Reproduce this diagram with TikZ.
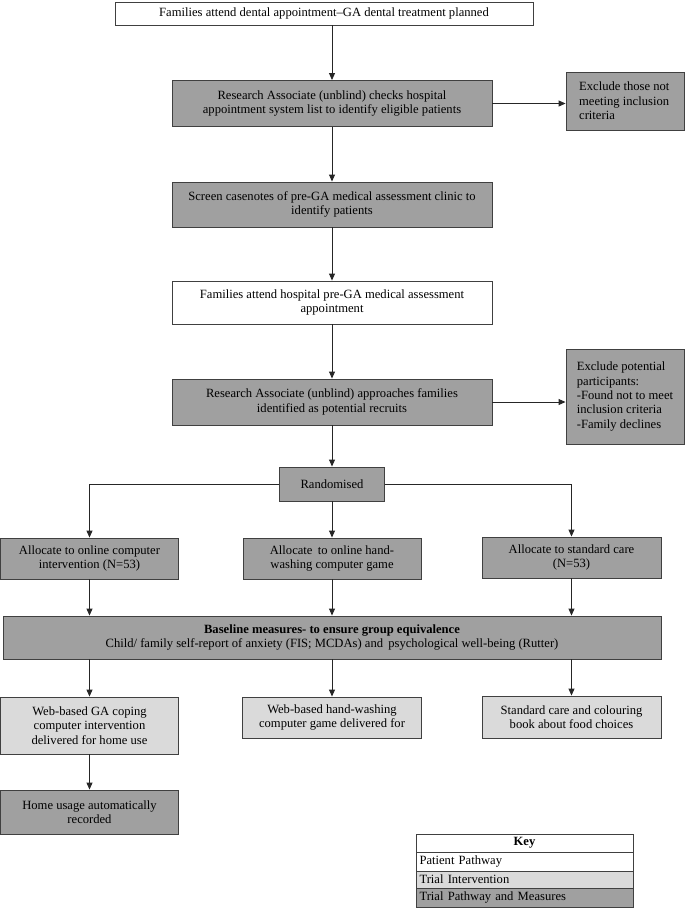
\documentclass[tikz,border=0pt]{standalone}
\usepackage{fontspec}
\setmainfont{Liberation Serif}
\usetikzlibrary{arrows.meta}
\definecolor{darkbox}{HTML}{A0A0A0}
\definecolor{lightbox}{HTML}{DADADA}
\definecolor{edge}{HTML}{404040}
\tikzset{
  x=1pt, y=-1pt,
  every node/.style={font=\fontsize{12.6}{14.4}\selectfont},
  box/.style={draw=edge, line width=0.9pt, inner sep=0pt, align=center},
  patient/.style={box, fill=white},
  trialbox/.style={box, fill=darkbox},
  interv/.style={box, fill=lightbox},
  arr/.style={-{Triangle[length=7pt,width=6pt]}, line width=0.9pt, black!85},
}
\begin{document}
\begin{tikzpicture}
\useasboundingbox (0,0) rectangle (685,908);
\node[patient, minimum width=418, minimum height=23] (top) at (324,13.5) {Families attend dental appointment--GA dental treatment planned};
\node[trialbox, minimum width=320, minimum height=46] (ra1) at (332,103.5) {Research Associate (unblind) checks hospital\\appointment system list to identify eligible patients};
\node[trialbox, minimum width=118, minimum height=58, align=left] (ex1) at (625,101) {Exclude those not\\meeting inclusion\\criteria\hspace*{56pt}};
\node[trialbox, minimum width=320, minimum height=45] (scr) at (332,204.5) {Screen casenotes of pre-GA medical assessment clinic to\\identify patients};
\node[patient, minimum width=320, minimum height=43] (hosp) at (332,302.5) {Families attend hospital pre-GA medical assessment\\appointment};
\node[trialbox, minimum width=320, minimum height=46] (ra2) at (332,402) {Research Associate (unblind) approaches families\\identified as potential recruits};
\node[trialbox, minimum width=118, minimum height=95, align=left] (ex2) at (625,396.5) {Exclude potential\\participants:\\-Found not to meet\\inclusion criteria\\-Family declines};
\node[trialbox, minimum width=105, minimum height=34] (rand) at (332,484) {Randomised};
\node[trialbox, minimum width=178, minimum height=41] (al1) at (89.5,558.5) {Allocate to online computer\\intervention (N=53)};
\node[trialbox, minimum width=178, minimum height=41] (al2) at (332,558.5) {Allocate\, to online hand-\\washing computer game};
\node[trialbox, minimum width=179, minimum height=41] (al3) at (571.5,557.5) {Allocate to standard care\\(N=53)};
\node[trialbox, minimum width=658, minimum height=43] (base) at (332,637.5) {\textbf{Baseline measures- to ensure group equivalence}\\Child/ family self-report of anxiety (FIS; MCDAs) and\, psychological well-being (Rutter)};
\node[interv, minimum width=178, minimum height=57] (web1) at (89.5,725.5) {Web-based GA coping\\computer intervention\\delivered for home use};
\node[interv, minimum width=179, minimum height=41] (web2) at (332,717.5) {Web-based hand-washing\\computer game delivered for};
\node[interv, minimum width=179, minimum height=42] (web3) at (571.5,717) {Standard care and colouring\\book about food choices};
\node[trialbox, minimum width=178, minimum height=44] (home) at (89.5,812) {Home usage automatically\\recorded};
% key
\node[patient, minimum width=217, minimum height=18] (k0) at (524.5,843) {\textbf{Key}};
\node[patient, minimum width=217, minimum height=19, text width=210, align=left, inner xsep=3.5pt] (k1) at (524.5,861.5) {Patient Pathway};
\node[interv, minimum width=217, minimum height=17, text width=210, align=left, inner xsep=3.5pt] (k2) at (524.5,879.5) {Trial Intervention};
\node[trialbox, minimum width=217, minimum height=19, text width=210, align=left, inner xsep=3.5pt] (k3) at (524.5,897.5) {Trial Pathway and Measures};
% connectors
\draw[arr] (top.south -| ra1) -- (ra1.north);
\draw[arr] (ra1.east) -- (ex1.west |- ra1.east);
\draw[arr] (ra1.south) -- (scr.north);
\draw[arr] (scr.south) -- (hosp.north);
\draw[arr] (hosp.south) -- (ra2.north);
\draw[arr] (ra2.east) -- (ex2.west |- ra2.east);
\draw[arr] (ra2.south) -- (rand.north);
\draw[arr] (rand.west) -| (al1.north);
\draw[arr] (rand.east) -| (al3.north);
\draw[arr] (rand.south) -- (al2.north);
\draw[arr] (al1.south) -- (base.north -| al1.south);
\draw[arr] (al2.south) -- (base.north -| al2.south);
\draw[arr] (al3.south) -- (base.north -| al3.south);
\draw[arr] (base.south -| al1.south) -- (web1.north);
\draw[arr] (base.south -| al2.south) -- (web2.north);
\draw[arr] (base.south -| al3.south) -- (web3.north);
\draw[arr] (web1.south) -- (home.north);
\end{tikzpicture}
\end{document}
